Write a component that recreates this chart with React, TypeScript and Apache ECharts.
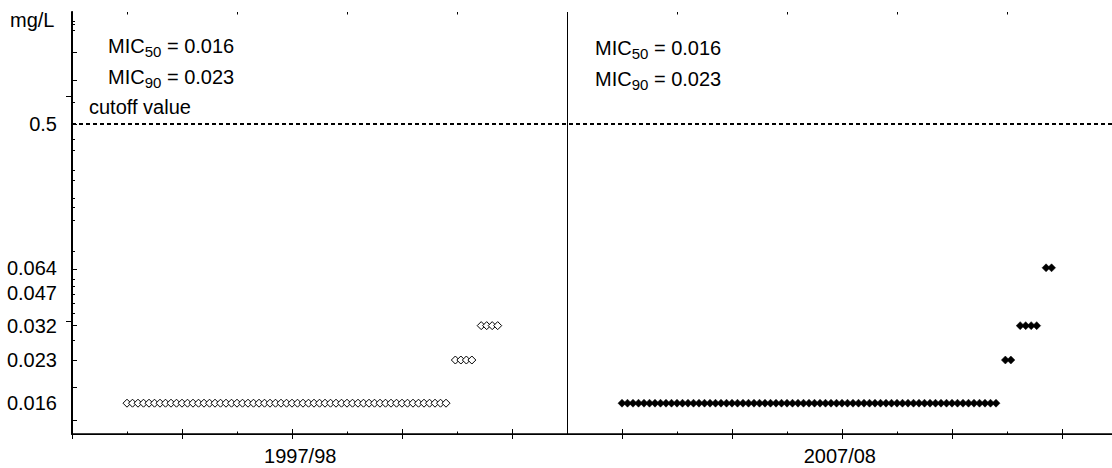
import React, { useEffect, useRef } from "react";
import * as echarts from "echarts";

// ---------------- data ----------------
const periods = ["1997/98", "2007/08"];
// y-axis tick labels (MIC, mg/L)
const micLevels = [0.016, 0.023, 0.032, 0.047, 0.064, 0.5];
// isolates per MIC, 1997/98 (open diamonds)
const mics1997 = [0.016, 0.023, 0.032];
const counts1997 = [59, 4, 4];
// isolates per MIC, 2007/08 (filled diamonds)
const mics2007 = [0.016, 0.023, 0.032, 0.064];
const counts2007 = [69, 2, 4, 2];
const mic50 = ["0.016", "0.016"];
const mic90 = ["0.023", "0.023"];
const cutoff = 0.5;

// ---------------- scale of the figure's y axis ----------------
// The figure uses a log ruler (1 ... ~530) on which the MIC labels sit.
const rulerPos = [1.58, 3, 5, 8.1, 11.8, 100];
const rulerMax = 527;
const majorRuler = [1.23, 2, 3, 5, 11.6, 100, 190, 290];
const minorRuler = [4, 6, 7, 8, 9, 10, 15, 24, 29, 33, 43, 50, 68, 80, 137, 400, 440, 460];
const rightRuler = [5.3, 150];

const L = (v: number) => Math.log10(v);
const toY = (mic: number) => L(rulerPos[micLevels.indexOf(mic)]);

// x axis: isolate order; panels span 0-90 and 90-190, strips start 10 units in
const panelStart = [0, 90];
const xMax = 190;
const GROUP_GAP = 0.7;

function strip(mics: number[], counts: number[], start: number) {
  const pts: number[][] = [];
  let x = start;
  mics.forEach((m, g) => {
    if (g > 0) x += GROUP_GAP;
    for (let i = 0; i < counts[g]; i++) {
      pts.push([x, toY(m)]);
      x += 1;
    }
  });
  return pts;
}

const FONT = "'Liberation Sans', Arial, Helvetica, sans-serif";
const FS = 20;

function micText(idx: string, val: string) {
  return `{m|MIC}{s|${idx}}{m| = ${val}}`;
}
const rich = {
  m: { fontSize: FS, fontFamily: FONT, fill: "#000", color: "#000" },
  s: { fontSize: 15, fontFamily: FONT, fill: "#000", color: "#000", padding: [10, 0, 0, 0] },
};

export default function App() {
  const ref = useRef<HTMLDivElement>(null);
  useEffect(() => {
    if (!ref.current) return;
    const chart = echarts.init(ref.current, null, { renderer: "svg" });
    const majX: number[] = [];
    const minX: number[] = [];
    for (let v = 0; v <= xMax; v += 10) (v % 20 === 0 ? majX : minX).push(v);

    const yMin = 0;
    const yMax = L(rulerMax);
    const common = { min: yMin, max: yMax, type: "value" as const, splitLine: { show: false } };

    const option: any = {
      animation: false,
      grid: { left: 72, top: 12, right: 3, bottom: 34, containLabel: false },
      xAxis: [
        {
          type: "value", position: "bottom", min: 0, max: xMax,
          axisLine: { lineStyle: { color: "#000", width: 1.5 } },
          axisTick: { inside: true, length: 5, customValues: majX, lineStyle: { color: "#000", width: 1 } },
          axisLabel: {
            customValues: [41.5, 139.6],
            margin: 12,
            color: "#000", fontSize: FS, fontFamily: FONT,
            formatter: (v: number) => (v < panelStart[1] ? periods[0] : periods[1]),
          },
          splitLine: { show: false },
        },
        {
          type: "value", position: "bottom", min: 0, max: xMax,
          axisLine: { show: false },
          axisTick: { inside: true, length: 2.5, customValues: minX, lineStyle: { color: "#000", width: 1 } },
          axisLabel: { show: false },
          splitLine: { show: false },
        },
        {
          type: "value", position: "top", min: 0, max: xMax,
          axisLine: { lineStyle: { color: "#000", width: 1 } },
          axisTick: { inside: true, length: 5, customValues: majX, lineStyle: { color: "#000", width: 1 } },
          axisLabel: { show: false },
          splitLine: { show: false },
        },
        {
          type: "value", position: "top", min: 0, max: xMax,
          axisLine: { show: false },
          axisTick: { inside: true, length: 2.5, customValues: minX, lineStyle: { color: "#000", width: 1 } },
          axisLabel: { show: false },
          splitLine: { show: false },
        },
      ],
      yAxis: [
        {
          ...common, position: "left",
          axisLine: { show: true, lineStyle: { color: "#000", width: 2 } },
          axisTick: { show: true, inside: true, length: 5, customValues: majorRuler.map(L), lineStyle: { color: "#000", width: 1 } },
          axisLabel: {
            customValues: rulerPos.map(L),
            margin: 15,
            color: "#000", fontSize: FS, fontFamily: FONT,
            formatter: (v: number) => {
              let best = 0;
              rulerPos.forEach((p, i) => {
                if (Math.abs(L(p) - v) < Math.abs(L(rulerPos[best]) - v)) best = i;
              });
              return String(micLevels[best]);
            },
          },
        },
        {
          ...common, position: "left",
          axisLine: { show: false },
          axisTick: { show: true, inside: true, length: 3, customValues: minorRuler.map(L), lineStyle: { color: "#000", width: 1 } },
          axisLabel: { show: false },
        },
        {
          ...common, position: "right",
          axisLine: { show: true, lineStyle: { color: "#000", width: 1 } },
          axisTick: { show: true, inside: true, length: 6, customValues: rightRuler.map(L), lineStyle: { color: "#000", width: 1 } },
          axisLabel: { show: false },
        },
      ],
      series: [
        {
          name: periods[0],
          type: "scatter",
          xAxisIndex: 0, yAxisIndex: 0,
          symbol: "diamond", symbolSize: [8, 8],
          itemStyle: { color: "#fff", borderColor: "#000", borderWidth: 1, opacity: 1 },
          data: strip(mics1997, counts1997, panelStart[0] + 10),
          silent: true,
          markLine: {
            silent: true, symbol: ["none", "none"], label: { show: false },
            data: [
              { yAxis: toY(cutoff), lineStyle: { color: "#000", width: 2, type: [4, 3] } },
              { xAxis: panelStart[1], lineStyle: { color: "#000", width: 1, type: "solid" } },
            ],
          },
        },
        {
          name: periods[1],
          type: "scatter",
          xAxisIndex: 0, yAxisIndex: 0,
          symbol: "diamond", symbolSize: [8, 8],
          itemStyle: { color: "#000", borderColor: "#000", borderWidth: 0.5, opacity: 1 },
          data: strip(mics2007, counts2007, panelStart[1] + 10),
          silent: true,
        },
      ],
      graphic: [
        { type: "text", style: { text: "mg/L", x: 10, y: 20, verticalAlign: "middle", fill: "#000", fontSize: FS, fontFamily: FONT } },
        { type: "text", style: { text: micText("50", mic50[0]), rich, x: 108, y: 46, verticalAlign: "middle", fill: "#000" } },
        { type: "text", style: { text: micText("90", mic90[0]), rich, x: 108, y: 77, verticalAlign: "middle", fill: "#000" } },
        { type: "text", style: { text: "cutoff value", x: 89, y: 107, verticalAlign: "middle", fill: "#000", fontSize: FS, fontFamily: FONT } },
        { type: "text", style: { text: micText("50", mic50[1]), rich, x: 595, y: 48, verticalAlign: "middle", fill: "#000" } },
        { type: "text", style: { text: micText("90", mic90[1]), rich, x: 595, y: 79, verticalAlign: "middle", fill: "#000" } },
      ],
    };
    chart.setOption(option);
    return () => chart.dispose();
  }, []);
  return (
    <div style={{ position: "absolute", left: 0, top: 0, width: 1112, height: 468, overflow: "hidden", background: "#fff" }}>
      <div ref={ref} style={{ width: 1120, height: 468 }} />
    </div>
  );
}
